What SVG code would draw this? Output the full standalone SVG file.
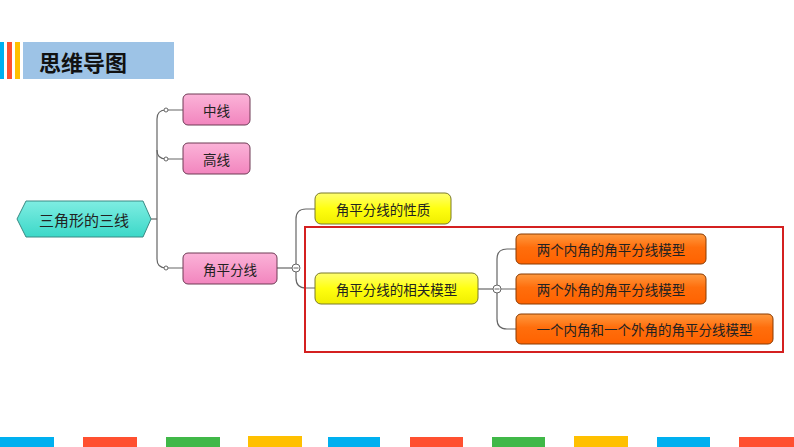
<svg xmlns="http://www.w3.org/2000/svg" width="794" height="447" viewBox="0 0 794 447">
<defs>
<linearGradient id="gPink" x1="0" y1="0" x2="0" y2="1">
<stop offset="0" stop-color="#FBB3D8"/><stop offset="1" stop-color="#F285BE"/>
</linearGradient>
<linearGradient id="gYellow" x1="0" y1="0" x2="0" y2="1">
<stop offset="0" stop-color="#FFFF70"/><stop offset="0.5" stop-color="#FFFF10"/><stop offset="1" stop-color="#F0EE00"/>
</linearGradient>
<linearGradient id="gOrange" x1="0" y1="0" x2="0" y2="1">
<stop offset="0" stop-color="#FF9A40"/><stop offset="0.45" stop-color="#FF6E0C"/><stop offset="1" stop-color="#FF6200"/>
</linearGradient>
<linearGradient id="gTeal" x1="0" y1="0" x2="0" y2="1">
<stop offset="0" stop-color="#7EEDE2"/><stop offset="1" stop-color="#3CD8C8"/>
</linearGradient>
<style>
.t{font-family:"Noto Sans CJK SC","Noto Sans",sans-serif;font-size:13.5px;fill:#222;text-anchor:middle;dominant-baseline:central}
.pink{fill:url(#gPink);stroke:#6E3A55;stroke-width:1}
.yel{fill:url(#gYellow);stroke:#7A7A2A;stroke-width:1}
.org{fill:url(#gOrange);stroke:#8A3A00;stroke-width:1}
.ln{fill:none;stroke:#666;stroke-width:1.2}
.dot{fill:#fff;stroke:#666;stroke-width:1}
</style>
</defs>
<rect width="794" height="447" fill="#fff"/>
<g id="header">
<rect x="0" y="42" width="4" height="37" fill="#00B0F0"/>
<rect x="7" y="42" width="5" height="37" fill="#FF5030"/>
<rect x="15" y="42" width="5" height="37" fill="#FFC000"/>
<rect x="23" y="42" width="151" height="37" fill="#9DC3E6"/>
<text x="39" y="61" font-family="Noto Sans CJK SC,sans-serif" font-size="22" font-weight="bold" fill="#111" dominant-baseline="central">思维导图</text>
</g>
<g id="footer">
<rect x="0" y="437" width="54" height="10" fill="#00B0F0"/>
<rect x="83" y="437" width="54" height="10" fill="#FF5030"/>
<rect x="166" y="437" width="54" height="10" fill="#40B848"/>
<rect x="248" y="436" width="54" height="11" fill="#FFC000"/>
<rect x="328" y="437" width="52" height="10" fill="#00B0F0"/>
<rect x="410" y="437" width="53" height="10" fill="#FF5030"/>
<rect x="492" y="437" width="53" height="10" fill="#40B848"/>
<rect x="574" y="436" width="54" height="11" fill="#FFC000"/>
<rect x="657" y="437" width="53" height="10" fill="#00B0F0"/>
<rect x="739" y="437" width="55" height="10" fill="#FF5030"/>
</g>
<g id="connectors">
<path class="ln" d="M151,219 H157"/>
<path class="ln" d="M166,110 Q157,110 157,119 V259 Q157,268 166,268"/>
<path class="ln" d="M157,150 Q157,159 166,159"/>
<path class="ln" d="M166,110 H183 M166,159 H183 M166,268 H183"/>
<circle class="dot" cx="166" cy="110" r="2"/>
<circle class="dot" cx="166" cy="159" r="2"/>
<circle class="dot" cx="166" cy="268" r="2"/>
<path class="ln" d="M277,268 H292"/>
<path class="ln" d="M315,209 H306 Q296,209 296,219 V278 Q296,288 306,288 H315"/>
<circle class="dot" cx="296" cy="268" r="4"/>
<path d="M293.5,268 H298.5" stroke="#666" stroke-width="1"/>
<path class="ln" d="M478,289 H493"/>
<path class="ln" d="M516,249 H507 Q497,249 497,259 V319 Q497,329 507,329 H516 M501,289 H516"/>
<circle class="dot" cx="497" cy="289" r="4"/>
<path d="M494.5,289 H499.5" stroke="#666" stroke-width="1"/>
</g>
<g id="root">
<path d="M17,219 L26,201 H143 L151,219 L143,237 H26 Z" fill="url(#gTeal)" stroke="#3A8A84" stroke-width="1"/>
<text class="t" x="84" y="219" style="font-size:15px">三角形的三线</text>
</g>
<g id="n-zhongxian">
<rect class="pink" x="183" y="94" width="67" height="31" rx="5"/>
<text class="t" x="216.5" y="109.5">中线</text>
</g>
<g id="n-gaoxian">
<rect class="pink" x="183" y="143" width="67" height="31" rx="5"/>
<text class="t" x="216.5" y="158.5">高线</text>
</g>
<g id="n-jiaopingfenxian">
<rect class="pink" x="183" y="253" width="94" height="31" rx="5"/>
<text class="t" x="230" y="268.5">角平分线</text>
</g>
<g id="n-xingzhi">
<rect class="yel" x="315" y="193" width="136" height="31" rx="6"/>
<text class="t" x="383" y="208.5">角平分线的性质</text>
</g>
<g id="highlight">
<rect x="305" y="227" width="478" height="125" fill="none" stroke="#D42020" stroke-width="2"/>
</g>
<g id="n-moxing">
<rect class="yel" x="315" y="273" width="163" height="31" rx="6"/>
<text class="t" x="396.5" y="288.5">角平分线的相关模型</text>
</g>
<g id="n-m1">
<rect class="org" x="516" y="234" width="190" height="30" rx="5"/>
<text class="t" x="611" y="249">两个内角的角平分线模型</text>
</g>
<g id="n-m2">
<rect class="org" x="516" y="274" width="190" height="30" rx="5"/>
<text class="t" x="611" y="289">两个外角的角平分线模型</text>
</g>
<g id="n-m3">
<rect class="org" x="516" y="314" width="257" height="30" rx="5"/>
<text class="t" x="644.5" y="329">一个内角和一个外角的角平分线模型</text>
</g>
</svg>
